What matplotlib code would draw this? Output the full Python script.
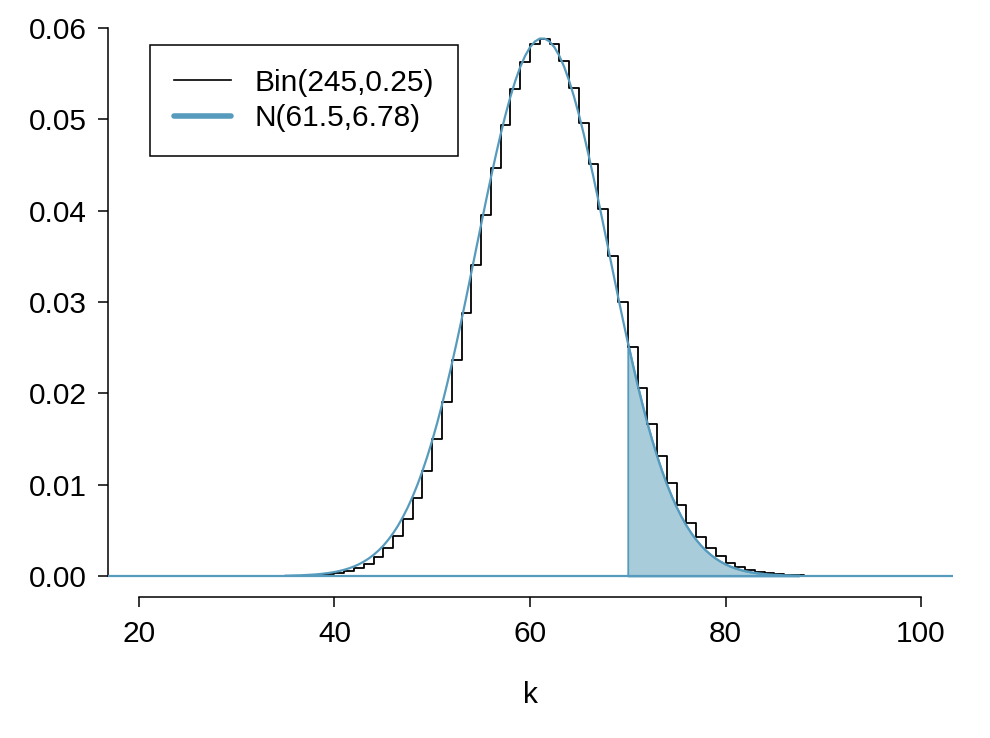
import numpy as np
from matplotlib import pyplot as plt
from matplotlib.lines import Line2D

plt.rcParams['font.family'] = ['Liberation Sans', 'DejaVu Sans']

# binomial pmf, Bin(245, 0.25)
binom_k = np.arange(34, 92)
binom_p = [0.00000, 0.00002, 0.00003, 0.00006, 0.00010, 0.00018, 0.00031, 0.00052,
           0.00085, 0.00133, 0.00204, 0.00304, 0.00440, 0.00621, 0.00854, 0.01144,
           0.01495, 0.01905, 0.02369, 0.02876, 0.03409, 0.03946, 0.04463, 0.04932,
           0.05329, 0.05630, 0.05818, 0.05882, 0.05818, 0.05634, 0.05340, 0.04957,
           0.04506, 0.04013, 0.03501, 0.02994, 0.02509, 0.02062, 0.01661, 0.01312,
           0.01016, 0.00772, 0.00576, 0.00421, 0.00303, 0.00213, 0.00147, 0.00100,
           0.00067, 0.00044, 0.00028, 0.00018, 0.00011, 0.00007, 0.00004, 0.00002,
           0.00001, 0.00000]

# normal curve N(61.5, 6.78), read every half unit
norm_x = np.arange(35, 88, 0.5)
norm_y = [0.00003, 0.00004, 0.00006, 0.00007, 0.00010, 0.00013, 0.00016, 0.00021,
          0.00027, 0.00034, 0.00043, 0.00054, 0.00068, 0.00084, 0.00104, 0.00128,
          0.00157, 0.00191, 0.00231, 0.00278, 0.00332, 0.00396, 0.00468, 0.00551,
          0.00646, 0.00752, 0.00871, 0.01003, 0.01150, 0.01310, 0.01484, 0.01673,
          0.01876, 0.02092, 0.02319, 0.02558, 0.02806, 0.03061, 0.03322, 0.03585,
          0.03847, 0.04107, 0.04361, 0.04604, 0.04836, 0.05051, 0.05247, 0.05421,
          0.05571, 0.05693, 0.05787, 0.05850, 0.05882,
          0.05882, 0.05850, 0.05787, 0.05693, 0.05571, 0.05421, 0.05247, 0.05051,
          0.04836, 0.04604, 0.04361, 0.04107, 0.03847, 0.03585, 0.03322, 0.03061,
          0.02806, 0.02558, 0.02319, 0.02092, 0.01876, 0.01673, 0.01484, 0.01310,
          0.01150, 0.01003, 0.00871, 0.00752, 0.00646, 0.00551, 0.00468, 0.00396,
          0.00332, 0.00278, 0.00231, 0.00191, 0.00157, 0.00128, 0.00104, 0.00084,
          0.00068, 0.00054, 0.00043, 0.00034, 0.00027, 0.00021, 0.00016, 0.00013,
          0.00010, 0.00007, 0.00006, 0.00004, 0.00003]
norm_y = np.array(norm_y)

cut = 70
xticks = [20, 40, 60, 80, 100]
yticks = [0.00, 0.01, 0.02, 0.03, 0.04, 0.05, 0.06]

blue = '#569BBD'
light = '#A9CCDB'
fs = 21.5

fig = plt.figure(figsize=(9.9, 7.38), dpi=100)
ax = fig.add_axes([0.1091, 0.1911, 0.8535, 0.7873])

sel = norm_x >= cut
ax.fill_between(norm_x[sel], norm_y[sel], 0, facecolor=light, edgecolor=blue, lw=1.3, zorder=1)
ax.step(binom_k, binom_p, where='post', color='black', lw=1.3, zorder=2)
ax.plot(norm_x, norm_y, color=blue, lw=1.6, zorder=3)
ax.axhline(0, color=blue, lw=1.6, zorder=3)

ax.set_xlim(16.83, 103.27)
ax.set_ylim(-0.0023, 0.0613)

for s in ['top', 'right']:
    ax.spines[s].set_visible(False)
ax.spines['left'].set_bounds(0, 0.06)
ax.spines['bottom'].set_bounds(20, 100)
ax.spines['left'].set_linewidth(1.1)
ax.spines['bottom'].set_linewidth(1.1)

ax.set_xticks(xticks)
ax.set_xticklabels([str(v) for v in xticks])
ax.set_yticks(yticks)
ax.set_yticklabels(['%.2f' % v for v in yticks])
ax.tick_params(axis='both', direction='out', length=7.5, width=1.1, labelsize=fs)
ax.tick_params(axis='x', pad=9)
ax.tick_params(axis='y', pad=8)
ax.set_xlabel('k', fontsize=fs, labelpad=24)

handles = [Line2D([], [], color='black', lw=1.2),
           Line2D([], [], color=blue, lw=4, solid_capstyle='round')]
leg = fig.legend(handles, ['Bin(245,0.25)', 'N(61.5,6.78)'],
                 loc='upper left', bbox_to_anchor=(150 / 990, 1 - 45 / 738),
                 fontsize=fs, fancybox=False, framealpha=1, edgecolor='black',
                 borderpad=0.8, handlelength=1.9, handletextpad=0.8,
                 labelspacing=0.25, borderaxespad=0)
leg.get_frame().set_linewidth(1.1)

plt.savefig('out.png', dpi=100)
